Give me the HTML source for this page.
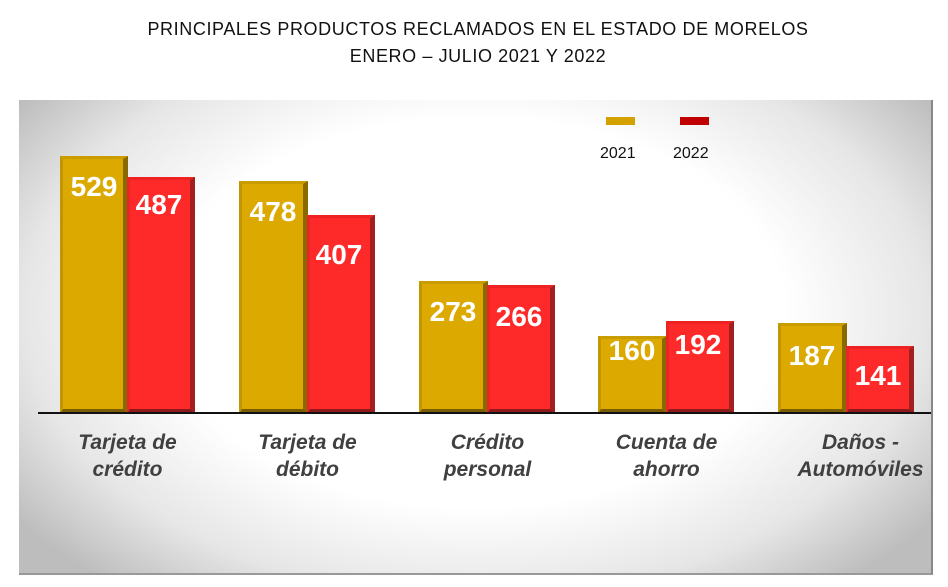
<!DOCTYPE html>
<html><head><meta charset="utf-8"><style>
body{margin:0;width:948px;height:587px;background:#fff;position:relative;overflow:hidden;font-family:"Liberation Sans",sans-serif}
.t{position:absolute;left:0;width:956px;text-align:center;font-size:18px;color:#111;letter-spacing:0.6px}
.panel{position:absolute;left:19px;top:100px;width:914px;height:475px;
background:radial-gradient(ellipse 62% 75% at 50% 45%,#fff 55%,#e6e6e6 80%,#bdbdbd 100%);
border-right:2px solid #888;border-bottom:2px solid #999;box-sizing:border-box}
.bar{position:absolute;box-sizing:border-box}
.y{background:#dba900;border-top:3px solid #c99c00;border-left:3px solid #c29600;border-right:5px solid #8a6a00;border-bottom:5px solid #7a5d00}
.r{background:#fe2a2a;border-top:3px solid #e22;border-left:3px solid #e82626;border-right:5px solid #a32020;border-bottom:5px solid #8e1b1b}
.v{position:absolute;color:#fff;font-weight:bold;font-size:28px;text-align:center;width:68px}
.c{position:absolute;width:179px;text-align:center;font-style:italic;font-weight:bold;font-size:21px;color:#404040;line-height:27px}
.axis{position:absolute;left:38px;top:412px;width:893px;height:2px;background:#111}
</style></head><body>
<div class="t" style="top:19px">PRINCIPALES PRODUCTOS RECLAMADOS EN EL ESTADO DE MORELOS</div>
<div class="t" style="top:46px">ENERO – JULIO 2021 Y 2022</div>
<div class="panel"></div>
<div style="position:absolute;left:606px;top:117px;width:29px;height:8px;background:#d4a200"></div>
<div style="position:absolute;left:680px;top:117px;width:29px;height:8px;background:#c00000"></div>
<div style="position:absolute;left:600px;top:145px;font-size:16px;color:#111">2021</div>
<div style="position:absolute;left:673px;top:145px;font-size:16px;color:#111">2022</div>

<div class="bar y" style="left:60px;top:156px;width:68px;height:258px"></div>
<div class="bar r" style="left:127px;top:177px;width:68px;height:237px"></div>
<div class="bar y" style="left:239px;top:181px;width:69px;height:233px"></div>
<div class="bar r" style="left:307px;top:215px;width:68px;height:199px"></div>
<div class="bar y" style="left:419px;top:281px;width:69px;height:133px"></div>
<div class="bar r" style="left:487px;top:285px;width:68px;height:129px"></div>
<div class="bar y" style="left:598px;top:336px;width:69px;height:78px"></div>
<div class="bar r" style="left:666px;top:321px;width:68px;height:93px"></div>
<div class="bar y" style="left:778px;top:323px;width:69px;height:91px"></div>
<div class="bar r" style="left:846px;top:346px;width:68px;height:68px"></div>
<div class="axis"></div>

<div class="v" style="left:60px;top:171px">529</div>
<div class="v" style="left:125px;top:189px">487</div>
<div class="v" style="left:239px;top:196px">478</div>
<div class="v" style="left:305px;top:239px">407</div>
<div class="v" style="left:419px;top:296px">273</div>
<div class="v" style="left:485px;top:301px">266</div>
<div class="v" style="left:598px;top:335px">160</div>
<div class="v" style="left:664px;top:329px">192</div>
<div class="v" style="left:778px;top:340px">187</div>
<div class="v" style="left:844px;top:360px">141</div>

<div class="c" style="left:38px;top:429px">Tarjeta de<br>crédito</div>
<div class="c" style="left:218px;top:429px">Tarjeta de<br>débito</div>
<div class="c" style="left:398px;top:429px">Crédito<br>personal</div>
<div class="c" style="left:577px;top:429px">Cuenta de<br>ahorro</div>
<div class="c" style="left:771px;top:429px">Daños -<br>Automóviles</div>
</body></html>
